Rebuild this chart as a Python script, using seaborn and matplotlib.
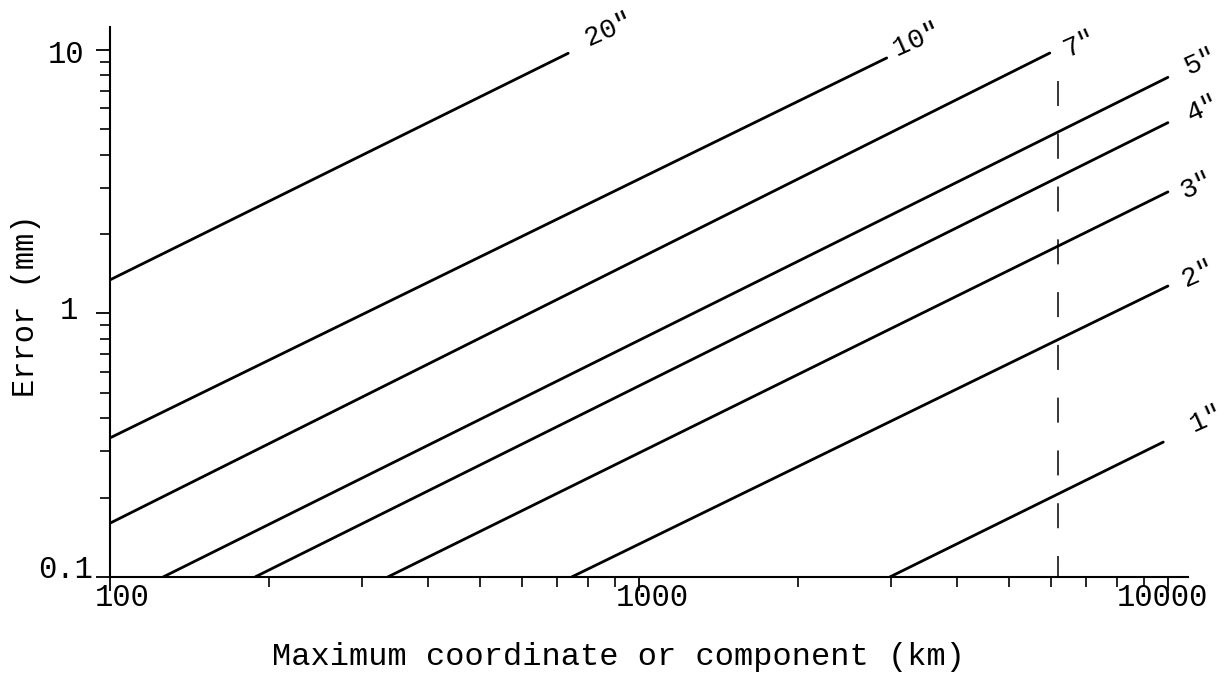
import matplotlib
matplotlib.use("Agg")
import matplotlib.pyplot as plt
import matplotlib.transforms as mtransforms
from matplotlib.ticker import FixedLocator, LogLocator, NullFormatter
import pandas as pd
import seaborn as sns

# Angular error lines: error (mm) against maximum coordinate (km)
angles = ['1"', '2"', '3"', '4"', '5"', '7"', '10"', '20"']
start_km = [2980, 746, 335, 188, 126, 100, 100, 100]
start_mm = [0.1, 0.1, 0.1, 0.1, 0.1, 0.160, 0.337, 1.34]
end_km = [9800, 10000, 10000, 10000, 10000, 5980, 2940, 735]
end_mm = [0.325, 1.27, 2.89, 5.29, 7.86, 9.72, 9.31, 9.70]

# Vertical reference line (Earth radius)
ref_km = 6200
ref_top_mm = 7.6

x_ticks = [100, 1000, 10000]
x_tick_labels = ["100", "1000", "10000"]
y_ticks = [0.1, 1, 10]
y_tick_labels = ["0.1", "1", "10"]

x_label = "Maximum coordinate or component (km)"
y_label = "Error (mm)"

# Label offsets from each line end, in points
label_offsets = [(31.0, 16.5), (22.0, 8.5), (20.5, 4.2), (25.5, 10.0),
                 (23.5, 11.4), (22.0, 6.4), (21.5, 13.6), (29.5, 17.2)]

sns.set_style("ticks")
plt.rcParams["font.family"] = ["Liberation Mono", "DejaVu Sans Mono"]
plt.rcParams["text.color"] = "black"
plt.rcParams["axes.labelcolor"] = "black"

rows = []
for a, x0, y0, x1, y1 in zip(angles, start_km, start_mm, end_km, end_mm):
    rows.append({"angle": a, "km": x0, "mm": y0})
    rows.append({"angle": a, "km": x1, "mm": y1})
df = pd.DataFrame(rows)

fig = plt.figure(figsize=(12.28, 6.81), dpi=100)
fig.patch.set_facecolor("white")
ax = fig.add_axes([110 / 1228, 1 - 577 / 681, 1077.7 / 1228, 550 / 681])
ax.set_facecolor("white")
ax.set_xscale("log")
ax.set_yscale("log")

sns.lineplot(data=df, x="km", y="mm", units="angle", estimator=None,
             sort=False, color="black", linewidth=2.0, ax=ax, legend=False)

ax.plot([ref_km, ref_km], [ref_top_mm, 0.1], color="black", linewidth=1.1,
        dashes=(18 / 1.1, 20 / 1.1))

for a, x1, y1, off in zip(angles, end_km, end_mm, label_offsets):
    ax.annotate(a, xy=(x1, y1), xytext=off, textcoords="offset points",
                ha="center", va="center", rotation=24, fontsize=20,
                color="black")

ax.set_xlim(100, 10900)
ax.set_ylim(0.1, 12.2)

ax.xaxis.set_major_locator(FixedLocator(x_ticks))
ax.set_xticklabels(x_tick_labels)
ax.yaxis.set_major_locator(FixedLocator(y_ticks))
ax.set_yticklabels(y_tick_labels)
for axis in (ax.xaxis, ax.yaxis):
    axis.set_minor_locator(LogLocator(base=10, subs=range(2, 10)))
    axis.set_minor_formatter(NullFormatter())

for side in ("top", "right"):
    ax.spines[side].set_visible(False)
for side in ("left", "bottom"):
    ax.spines[side].set_linewidth(1.5)
    ax.spines[side].set_color("black")

ax.tick_params(axis="both", which="major", direction="out", length=10,
               width=1.3, color="black", labelsize=22, labelcolor="black")
ax.tick_params(axis="both", which="minor", direction="out", length=7.2,
               width=1.2, color="black")
ax.tick_params(axis="x", which="major", pad=-6)
ax.tick_params(axis="y", which="major", pad=2)

ax.set_xlabel(x_label, fontsize=23)
ax.set_ylabel(y_label, fontsize=22)
ax.xaxis.set_label_coords(0.4714, -0.1455)
ax.xaxis.label.set_va("center")
ax.yaxis.set_label_coords(-0.0780, 0.4927)
ax.yaxis.label.set_va("center")

# Nudge individual tick labels (pixels: +x right, +y down)
x_nudges = [(12, 0), (13, 0), (-6, 0)]
y_nudges = [(0, -11), (-15, -6), (-9, 2)]
fig.canvas.draw()
for tick, (dx, dy) in zip(ax.xaxis.get_major_ticks(), x_nudges):
    tick.label1.set_transform(tick.label1.get_transform() +
                              mtransforms.ScaledTranslation(dx / 100, -dy / 100, fig.dpi_scale_trans))
for tick, (dx, dy) in zip(ax.yaxis.get_major_ticks(), y_nudges):
    tick.label1.set_transform(tick.label1.get_transform() +
                              mtransforms.ScaledTranslation(dx / 100, -dy / 100, fig.dpi_scale_trans))

fig.savefig("out.png", dpi=100, facecolor="white")
